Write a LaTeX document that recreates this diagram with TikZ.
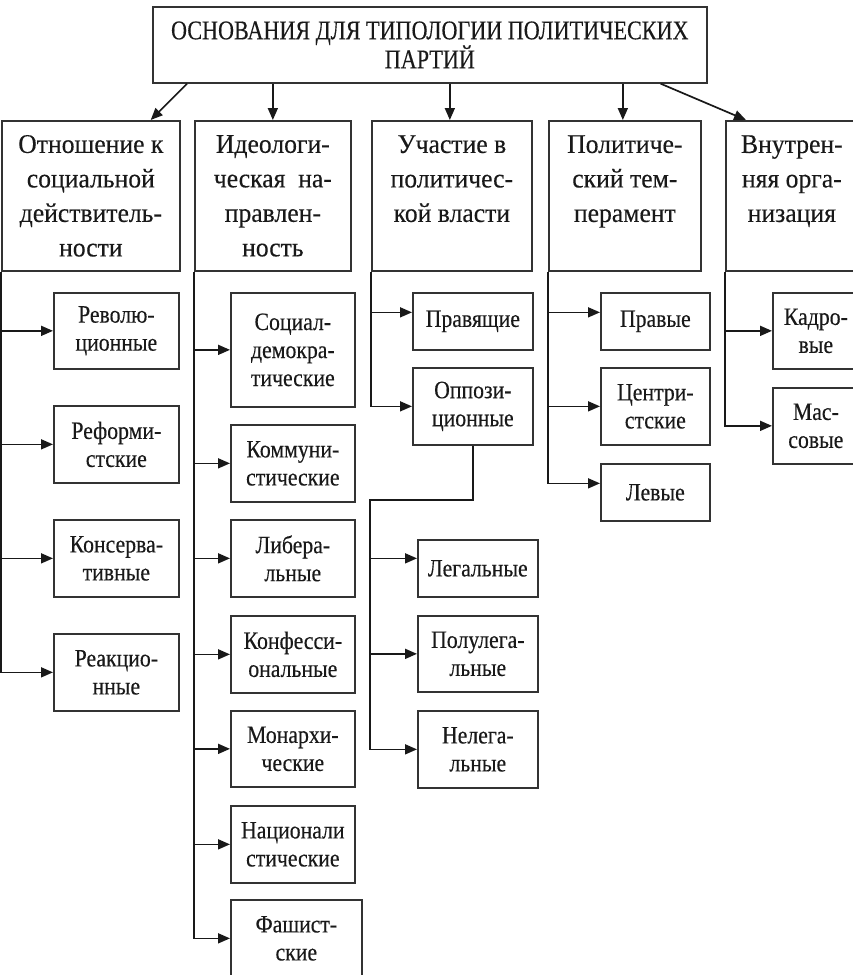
\documentclass[tikz,border=0pt]{standalone}
\usepackage{fontspec}
\setmainfont{Liberation Serif}
\newfontfamily\titlefont{Liberation Serif}[FakeStretch=0.82,FakeBold=0.3]
\newfontfamily\headfont{Liberation Serif}[FakeStretch=0.95,FakeBold=0.3]
\newfontfamily\subfont{Liberation Serif}[FakeStretch=0.87,FakeBold=0.3]
\usetikzlibrary{arrows.meta}
\begin{document}
\begin{tikzpicture}[x=1pt,y=-1pt,
  box/.style={draw=black!80, line width=1.7pt, rectangle, anchor=north west, inner sep=0pt, align=center, text=black!90},
  titlebox/.style={box, font=\titlefont\fontsize{27}{29}\selectfont},
  headbox/.style={box, minimum height=150pt, font=\headfont\fontsize{27}{34.5}\selectfont},
  subbox/.style={box, font=\subfont\fontsize{25}{28}\selectfont},
  arr/.style={-{Triangle[length=12pt,width=10pt]}, line width=1.7pt, draw=black!90},
  ln/.style={line width=1.7pt, draw=black!90}]
\useasboundingbox (0,0) rectangle (852,975);
% top
\node[titlebox, minimum width=554pt, minimum height=76pt] (top) at (152,6) {ОСНОВАНИЯ ДЛЯ ТИПОЛОГИИ ПОЛИТИЧЕСКИХ\\ПАРТИЙ};
% headers
\node[headbox, minimum width=178pt] (b1) at (1,120) {Отношение к\\социальной\\действитель-\\ности};
\node[headbox, minimum width=156pt] (b2) at (194,120) {Идеологи-\\ческая~ на-\\правлен-\\ность};
\node[headbox, minimum width=160pt] (b3) at (371,120) {Участие в\\политичес-\\кой власти\\\mbox{}};
\node[headbox, minimum width=152pt] (b4) at (548,120) {Политиче-\\ский тем-\\перамент\\\mbox{}};
\node[headbox, minimum width=132pt] (b5) at (725,120) {Внутрен-\\няя орга-\\низация\\\mbox{}};
% column 1
\node[subbox, minimum width=125pt, minimum height=76pt] (r1) at (53,292) {Револю-\\ционные};
\node[subbox, minimum width=125pt, minimum height=77pt] (r2) at (53,405) {Реформи-\\стские};
\node[subbox, minimum width=125pt, minimum height=77pt] (r3) at (53,519) {Консерва-\\тивные};
\node[subbox, minimum width=125pt, minimum height=77pt] (r4) at (53,633) {Реакцио-\\нные};
% column 2
\node[subbox, minimum width=124pt, minimum height=114pt] (i1) at (230,292) {Социал-\\демокра-\\тические};
\node[subbox, minimum width=124pt, minimum height=77pt] (i2) at (230,424) {Коммуни-\\стические};
\node[subbox, minimum width=124pt, minimum height=77pt] (i3) at (230,519) {Либера-\\льные};
\node[subbox, minimum width=124pt, minimum height=77pt] (i4) at (230,615) {Конфесси-\\ональные};
\node[subbox, minimum width=124pt, minimum height=76pt] (i5) at (230,710) {Монархи-\\ческие};
\node[subbox, minimum width=124pt, minimum height=77pt] (i6) at (230,805) {Национали\\стические};
\node[subbox, minimum width=131pt, minimum height=77pt] (i7) at (230,899) {Фашист-\\ские};
% column 3
\node[subbox, minimum width=120pt, minimum height=57pt] (p1) at (412,292) {Правящие};
\node[subbox, minimum width=120pt, minimum height=77pt] (p2) at (412,367) {Оппози-\\ционные};
\node[subbox, minimum width=120pt, minimum height=57pt] (l1) at (417,539) {Легальные};
\node[subbox, minimum width=120pt, minimum height=76pt] (l2) at (417,615) {Полулега-\\льные};
\node[subbox, minimum width=120pt, minimum height=77pt] (l3) at (417,710) {Нелега-\\льные};
% column 4
\node[subbox, minimum width=109pt, minimum height=57pt] (t1) at (600,292) {Правые};
\node[subbox, minimum width=109pt, minimum height=77pt] (t2) at (600,367) {Центри-\\стские};
\node[subbox, minimum width=109pt, minimum height=57pt] (t3) at (600,463) {Левые};
% column 5
\node[subbox, minimum width=86pt, minimum height=76pt] (o1) at (772,292) {Кадро-\\вые};
\node[subbox, minimum width=86pt, minimum height=76pt] (o2) at (772,387) {Мас-\\совые};
% top arrows
\draw[arr] ([xshift=35pt]top.south west) -- ([xshift=-30pt]b1.north east);
\draw[arr] (b2.north |- top.south) -- (b2.north);
\draw[arr] ([xshift=-2pt]b3.north |- top.south) -- ([xshift=-2pt]b3.north);
\draw[arr] ([xshift=-2pt]b4.north |- top.south) -- ([xshift=-2pt]b4.north);
\draw[arr] ([xshift=-47pt]top.south east) -- ([xshift=21pt]b5.north west);
% column 1 connectors
\draw[arr] (b1.south west) |- (r4.west);
\draw[arr] (b1.south west |- r1.west) -- (r1.west);
\draw[arr] (b1.south west |- r2.west) -- (r2.west);
\draw[arr] (b1.south west |- r3.west) -- (r3.west);
% column 2 connectors
\draw[arr] (b2.south west) |- (i7.west);
\foreach \n in {i1,i2,i3,i4,i5,i6}
  \draw[arr] (b2.south west |- \n.west) -- (\n.west);
% column 3 connectors
\coordinate (p1a) at ([yshift=9pt]p1.west);
\coordinate (l1a) at ([yshift=10pt]l1.west);
\draw[arr] (b3.south west) |- (p2.west);
\draw[arr] (b3.south west |- p1a) -- (p1a);
\coordinate (k3) at (370,500);
\draw[arr] (p2.south) |- (k3) |- (l3.west);
\draw[arr] (k3 |- l1a) -- (l1a);
\draw[arr] (k3 |- l2.west) -- (l2.west);
% column 4 connectors
\coordinate (t1a) at ([yshift=9pt]t1.west);
\coordinate (t3a) at ([yshift=9pt]t3.west);
\draw[arr] (b4.south west) |- (t3a);
\draw[arr] (b4.south west |- t1a) -- (t1a);
\draw[arr] (b4.south west |- t2.west) -- (t2.west);
% column 5 connectors
\draw[arr] (b5.south west) |- (o2.west);
\draw[arr] (b5.south west |- o1.west) -- (o1.west);
\end{tikzpicture}
\end{document}
